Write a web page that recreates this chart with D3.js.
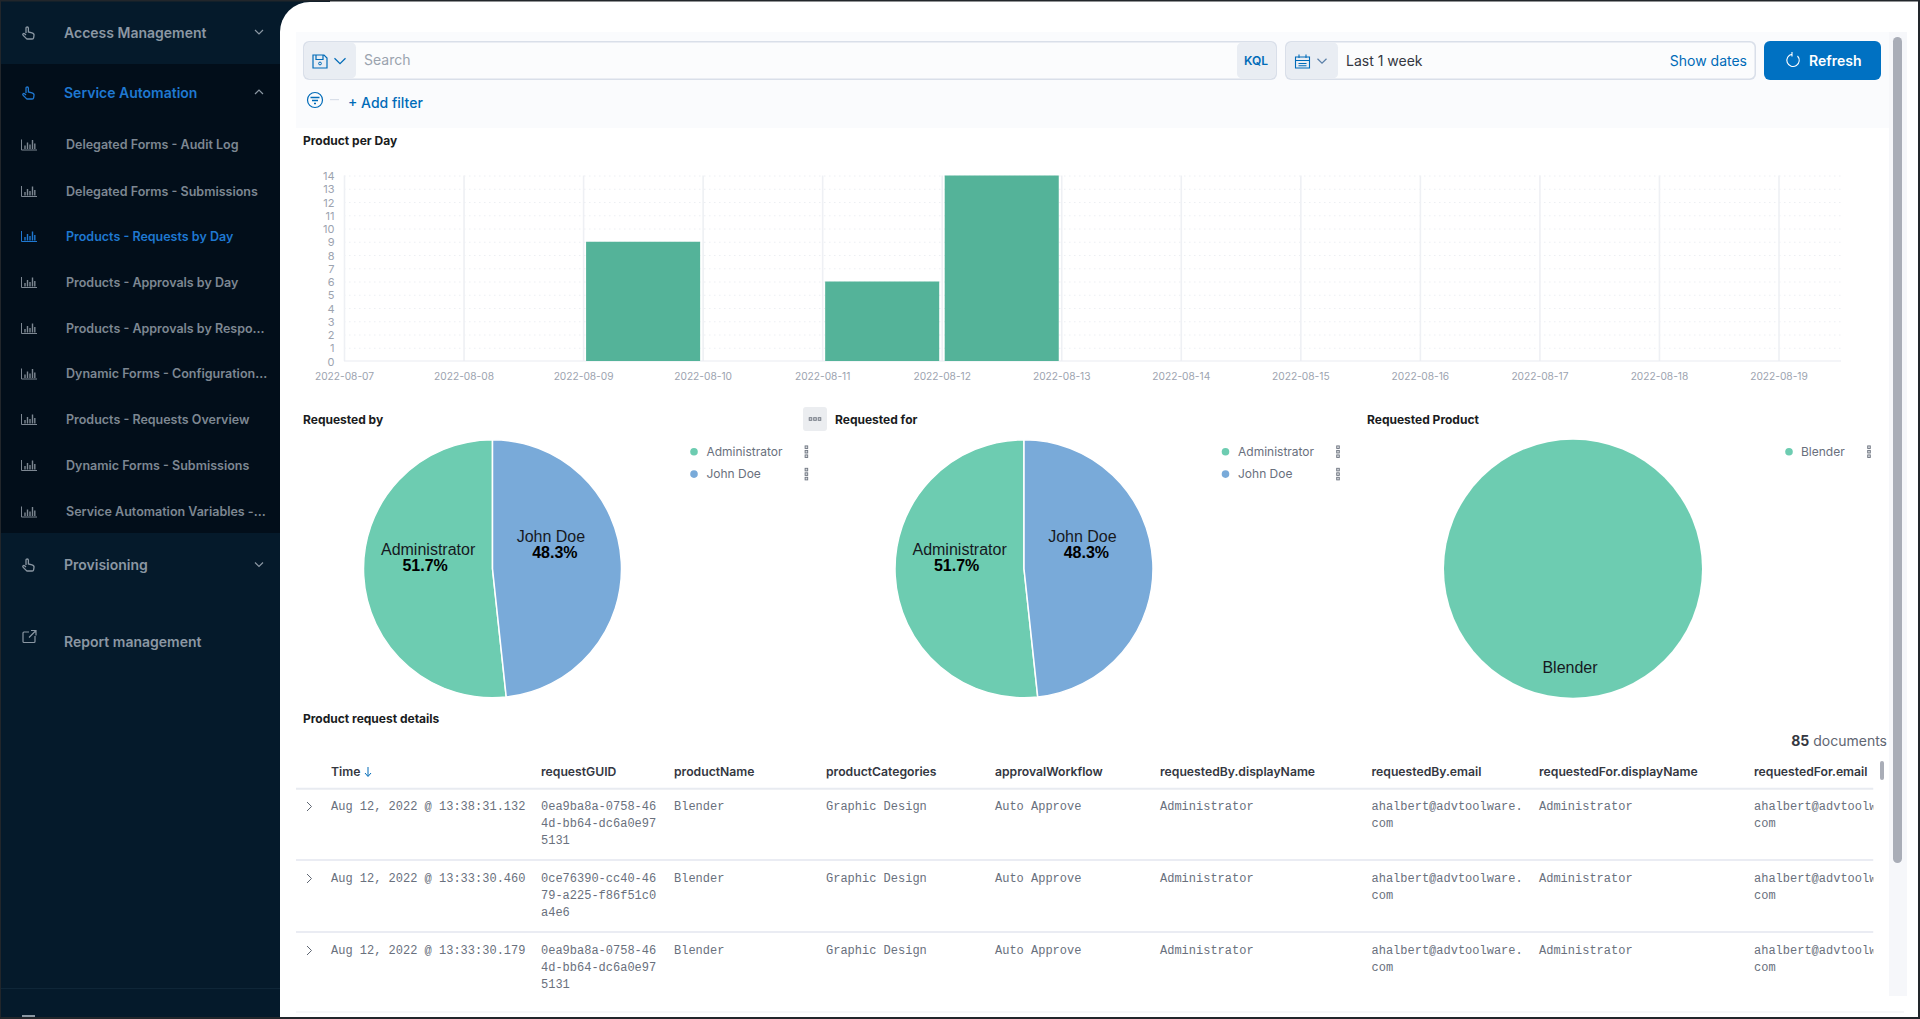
<!DOCTYPE html>
<html lang="en">
<head>
<meta charset="UTF-8">
<title>Products - Requests by Day</title>
<script src="https://d3js.org/d3.v7.min.js"></script>
<style>
  html, body { margin: 0; padding: 0; background: #fff; overflow: hidden; }
  svg { display: block; font-family: Inter, "Noto Sans", sans-serif; }
  text { dominant-baseline: central; }
  .axis text { fill: #9ca3af; font-family: Inter, sans-serif; }
  .axis .domain { display: none; }
  .mono { font-family: "Liberation Mono", monospace; font-size: 12px; fill: #69707d; }
</style>
</head>
<body>
<script>
// ---- data ----
var dayLabels = ["2022-08-07","2022-08-08","2022-08-09","2022-08-10","2022-08-11","2022-08-12","2022-08-13",
                 "2022-08-14","2022-08-15","2022-08-16","2022-08-17","2022-08-18","2022-08-19"];
var dayCounts = [0, 0, 9, 0, 6, 14, 0, 0, 0, 0, 0, 0, 0];
var yTicks = d3.range(0, 15);

var userNames = ["Administrator", "John Doe"];
var requestedByShare = [51.7, 48.3];
var requestedForShare = [51.7, 48.3];
var productNames = ["Blender"];
var productShare = [100];

var navTop1 = ["Access Management", "Service Automation"];
var navSub = ["Delegated Forms - Audit Log", "Delegated Forms - Submissions", "Products - Requests by Day",
              "Products - Approvals by Day", "Products - Approvals by Respo...", "Dynamic Forms - Configuration...",
              "Products - Requests Overview", "Dynamic Forms - Submissions", "Service Automation Variables -..."];
var navSubY = [144.5, 191, 236, 282, 328, 373.5, 419, 465, 511.5];

var tableHeaders = ["Time", "requestGUID", "productName", "productCategories", "approvalWorkflow",
                    "requestedBy.displayName", "requestedBy.email", "requestedFor.displayName", "requestedFor.email"];
var tableColX = [331, 541, 674, 826, 995, 1160, 1371.5, 1539, 1754];
var rowTimes = ["Aug 12, 2022 @ 13:38:31.132", "Aug 12, 2022 @ 13:33:30.460", "Aug 12, 2022 @ 13:33:30.179"];
var rowGuids = [["0ea9ba8a-0758-46", "4d-bb64-dc6a0e97", "5131"],
                ["0ce76390-cc40-46", "79-a225-f86f51c0", "a4e6"],
                ["0ea9ba8a-0758-46", "4d-bb64-dc6a0e97", "5131"]];
var rowY = [806.5, 878.5, 950.5];
var rowLines = [860, 932];

var w = 1920, h = 1019;
var green = "#6dccb1", blue = "#79aad9", link = "#006bb8";

var svg = d3.select("body").append("svg").attr("width", w).attr("height", h);

function txt(g, x, y, s, size, fill, weight, anchor) {
  return g.append("text").attr("x", x).attr("y", y).text(s)
    .attr("font-size", size).attr("fill", fill)
    .attr("font-weight", weight || 400).attr("text-anchor", anchor || "start");
}
function box(g, x, y, bw, bh, fill, r) {
  return g.append("rect").attr("x", x).attr("y", y).attr("width", bw).attr("height", bh)
    .attr("fill", fill).attr("rx", r || 0);
}
function line(g, x1, y1, x2, y2, col, sw) {
  return g.append("line").attr("x1", x1).attr("y1", y1).attr("x2", x2).attr("y2", y2)
    .attr("stroke", col).attr("stroke-width", sw || 1);
}
function chevron(g, cx, cy, up, col, s) {
  s = s || 4;
  var d = up ? -1 : 1;
  g.append("path").attr("d", "M" + (cx - s) + "," + (cy - d * s / 2) + "L" + cx + "," + (cy + d * s / 2) + "L" + (cx + s) + "," + (cy - d * s / 2))
    .attr("fill", "none").attr("stroke", col).attr("stroke-width", 1.2);
}
function handIcon(g, x, y, col) {
  g.append("path").attr("transform", "translate(" + x + "," + y + ")")
    .attr("d", "M4,7V2.2C4,0.6,6.4,0.6,6.4,2.2V6l3.6,0.8c1.4,0.3,2.2,1.2,2,2.6l-0.4,2.4c-0.1,0.8-0.7,1.2-1.4,1.2H5.4c-0.5,0-0.9-0.2-1.2-0.6L1,9.2C0.3,8.2,1.6,7,2.6,7.8L4,9")
    .attr("fill", "none").attr("stroke", col).attr("stroke-width", 1.3);
}
function barIcon(g, x, y, col) {
  var ic = g.append("g").attr("transform", "translate(" + x + "," + y + ")")
    .attr("stroke", col).attr("fill", "none");
  ic.append("path").attr("d", "M0.5,0V10.5H16").attr("stroke-width", 1);
  [[4, 6], [6.5, 3], [9, 5], [11.5, 0.5], [13.8, 4]].forEach(function (b) {
    ic.append("line").attr("x1", b[0]).attr("x2", b[0]).attr("y1", b[1]).attr("y2", 9.5).attr("stroke-width", 1.4);
  });
}
function kebab(g, cx, cy, horizontal) {
  [-4.5, 0, 4.5].forEach(function (d) {
    g.append("rect").attr("x", (horizontal ? cx + d : cx) - 1.3).attr("y", (horizontal ? cy : cy + d) - 1.3)
      .attr("width", 2.6).attr("height", 2.6).attr("fill", "#d5d8dc").attr("stroke", "#6f7680").attr("stroke-width", 0.9);
  });
}

// ---- sidebar ----
var nav = svg.append("g");
box(nav, 0, 0, 330, h, "#051a2b");
box(nav, 0, 64, 330, 469, "#020e1a");
line(nav, 0, 988.5, 280, 988.5, "#0f2638", 1);
var navMain = "#8b97a3", navActive = "#1f78d1", navSubCol = "#7d8792";
handIcon(nav, 22, 26, navMain);
txt(nav, 64, 32, navTop1[0], 14, navMain, 600);
chevron(nav, 259, 32, false, navMain);
handIcon(nav, 22, 86, navActive);
txt(nav, 64, 92, navTop1[1], 14, navActive, 600);
chevron(nav, 259, 92, true, navMain);
navSub.forEach(function (s, i) {
  var col = i === 2 ? navActive : navSubCol;
  barIcon(nav, 21, navSubY[i] - 5, col);
  txt(nav, 66, navSubY[i], s, 12.5, col, 600);
});
handIcon(nav, 22, 558, navMain);
txt(nav, 64, 564.5, "Provisioning", 14, navMain, 600);
chevron(nav, 259, 564.5, false, navMain);
nav.append("path").attr("d", "M35,636v5.5a1,1,0,0,1-1,1H24a1,1,0,0,1-1-1V633a1,1,0,0,1,1-1h5M31,630.5h5v5M36,630.5l-7,7")
  .attr("fill", "none").attr("stroke", navMain).attr("stroke-width", 1.2);
txt(nav, 64, 641, "Report management", 14, navMain, 600);
box(nav, 22, 1015, 13, 4, "#8b97a3");
// only the top of this label shows at the bottom edge of the reference
txt(nav, 64, 1023.5, "Help", 14, navMain, 600);

// ---- main panel ----
var main = svg.append("g");
main.append("path").attr("d", "M280," + h + "V32A30,30,0,0,1,310,2H" + w + "V" + h + "Z").attr("fill", "#fff");
box(main, 296, 32, 1595, 96, "#fafbfd");

// search bar
box(main, 303, 41, 974, 39, "#d9dfe9", 6);
box(main, 304.5, 42.5, 971, 36, "#fbfcfd", 5);
box(main, 304.5, 42.5, 51.5, 36, "#e9edf3", 5);
box(main, 1237, 42.5, 38.5, 36, "#e9edf3", 5);
main.append("path").attr("d", "M313,55H324L327,58V68H313ZM316,55V59.5H323V55").attr("fill", "none").attr("stroke", link).attr("stroke-width", 1.2);
main.append("circle").attr("cx", 320).attr("cy", 63.5).attr("r", 1.4).attr("fill", "none").attr("stroke", link);
chevron(main, 340, 61, false, link, 5.5);
txt(main, 364, 59.3, "Search", 14, "#9aa3ae");
txt(main, 1256, 60.5, "KQL", 12, link, 600, "middle");

// date picker
box(main, 1285, 41, 471, 39, "#d9dfe9", 6);
box(main, 1286.5, 42.5, 468, 36, "#fbfcfd", 5);
box(main, 1286.5, 42.5, 51.5, 36, "#e9edf3", 5);
main.append("path").attr("d", "M1295.5,57H1309.5V68H1295.5ZM1295.5,60.5H1309.5M1299,54.5V58M1306,54.5V58M1298.5,63.5H1306.5M1298.5,65.8H1306.5")
  .attr("fill", "none").attr("stroke", link).attr("stroke-width", 1.1);
chevron(main, 1322, 61, false, "#5a7fa8", 4.5);
txt(main, 1346, 60.5, "Last 1 week", 14, "#343741");
txt(main, 1747, 60.5, "Show dates", 14, link, 400, "end");

// refresh
box(main, 1764, 41, 117, 39, "#0071c2", 6);
main.append("path").attr("d", "M1797.5,56A6.2,6.2,0,1,1,1792,54.2M1792,52V56.5")
  .attr("fill", "none").attr("stroke", "#fff").attr("stroke-width", 1.1);
txt(main, 1809, 60.5, "Refresh", 14, "#fff", 600);

// filter row
main.append("circle").attr("cx", 315).attr("cy", 100).attr("r", 7.5).attr("fill", "none").attr("stroke", link).attr("stroke-width", 1.2);
main.append("path").attr("d", "M310.5,97.5H319.5M312,100.5H318M314,103.5H316").attr("stroke", link).attr("stroke-width", 1.3);
line(main, 330, 99.6, 339, 99.6, "#d9dfe9", 1.2);
txt(main, 348, 102.7, "+ Add filter", 14, link, 500);

// ---- bar chart ----
var titleCol = "#1a1c21";
txt(main, 303, 140, "Product per Day", 12, titleCol, 700);

var parseDay = d3.utcParse("%Y-%m-%d");
var days = dayLabels.map(parseDay);
var plotLeft = 344, plotRight = 1841, plotTop = 175.5, plotBottom = 361;
var x = d3.scaleUtc().domain([days[0], days[12]]).range([plotLeft, 1778.5]);
var y = d3.scaleLinear().domain([0, 14]).range([plotBottom, plotTop]);

var yGrid = main.append("g").attr("transform", "translate(" + plotLeft + ",0)")
  .call(d3.axisLeft(y).tickValues(yTicks.slice(1)).tickSize(-(plotRight - plotLeft)).tickFormat(""));
yGrid.select(".domain").remove();
yGrid.selectAll("line").attr("stroke", "#eceff3").attr("stroke-dasharray", "1.5,3.5");

var xAxis = main.append("g").attr("class", "axis").attr("transform", "translate(0," + plotBottom + ")")
  .call(d3.axisBottom(x).tickValues(days).tickSize(-(plotBottom - plotTop)).tickPadding(15).tickFormat(d3.utcFormat("%Y-%m-%d")));
xAxis.selectAll("line").attr("stroke", "#eef0f4").attr("stroke-width", 1.6);
xAxis.selectAll("text").attr("dy", 0).attr("font-size", 10.2);

var yAxis = main.append("g").attr("class", "axis").attr("transform", "translate(" + plotLeft + ",0)")
  .call(d3.axisLeft(y).tickValues(yTicks).tickSize(0).tickPadding(9.5).tickFormat(d3.format("d")));
yAxis.selectAll("text").attr("dy", 0).attr("font-size", 11);
line(main, plotLeft, plotBottom, plotRight, plotBottom, "#e9ecf1", 1.2);

main.append("g").selectAll("rect").data(dayCounts.map(function (v, i) { return { day: days[i], value: v }; }).filter(function (d) { return d.value > 0; }))
  .enter().append("rect")
  .attr("x", function (d) { return x(d.day) + 3; })
  .attr("y", function (d) { return y(d.value); })
  .attr("width", function (d) { return x(d3.utcDay.offset(d.day, 1)) - x(d.day) - 5.5; })
  .attr("height", function (d) { return plotBottom - y(d.value); })
  .attr("fill", "#54b399");

// ---- pies ----
var arc = d3.arc().innerRadius(0).outerRadius(129);
function drawPie(cx, names, values, colors) {
  var g = main.append("g").attr("transform", "translate(" + cx + ",568.8)");
  var pie = d3.pie().sort(function (a, b) { return a.v - b.v; }).value(function (d) { return d.v; });
  var slices = pie(names.map(function (n, i) { return { n: n, v: values[i], c: colors[i] }; }));
  g.selectAll("path").data(slices).enter().append("path")
    .attr("d", arc).attr("fill", function (d) { return d.data.c; })
    .attr("stroke", "#fff").attr("stroke-width", names.length > 1 ? 1.5 : 0);
  return { g: g, slices: slices };
}
function labelSlice(p, i, dxName, dyName, dxVal, dyVal, showPct) {
  var c = arc.centroid(p.slices[i]);
  p.g.append("text").attr("x", c[0] + dxName).attr("y", c[1] + dyName).attr("text-anchor", "middle")
    .attr("font-family", "'Liberation Sans', Arial, sans-serif").attr("font-size", 16).attr("fill", "#16191f").text(p.slices[i].data.n);
  if (showPct) {
    p.g.append("text").attr("x", c[0] + dxVal).attr("y", c[1] + dyVal).attr("text-anchor", "middle")
      .attr("font-family", "'Liberation Sans', Arial, sans-serif").attr("font-size", 16).attr("font-weight", 700).attr("fill", "#000")
      .text(p.slices[i].data.v.toFixed(1) + "%");
  }
}
function twoSlicePie(cx, values) {
  var p = drawPie(cx, userNames, values, [green, blue]);
  // slices keep input order: 0 = Administrator, 1 = John Doe (smaller, drawn first from 12 o'clock)
  labelSlice(p, 0, 0, -22.4, -3, -6.4, true);
  labelSlice(p, 1, -6, -28.6, -2, -12.6, true);
}
function legend(dotX, textX, kebabX, names, colors) {
  names.forEach(function (n, i) {
    var ly = 451.7 + i * 22.4;
    main.append("circle").attr("cx", dotX).attr("cy", ly).attr("r", 3.8).attr("fill", colors[i]);
    txt(main, textX, ly - 0.7, n, 12, "#69707d");
    kebab(main, kebabX, ly, false);
  });
}
txt(main, 303, 419, "Requested by", 12, titleCol, 700);
twoSlicePie(492.5, requestedByShare);
legend(694, 706.4, 806.4, userNames, [green, blue]);

box(main, 803, 407, 24, 24, "#ebedf0", 3);
kebab(main, 815, 419, true);
txt(main, 835, 419, "Requested for", 12, titleCol, 700);
twoSlicePie(1024, requestedForShare);
legend(1225.5, 1238, 1338, userNames, [green, blue]);

txt(main, 1367, 419, "Requested Product", 12, titleCol, 700);
var productPie = drawPie(1573, productNames, productShare, [green]);
labelSlice(productPie, 0, -3, 34, 0, 0, false);
legend(1789, 1801, 1869, productNames, [green]);

// ---- table ----
txt(main, 303, 718, "Product request details", 12, titleCol, 700);
var docs = main.append("text").attr("x", 1887).attr("y", 740).attr("text-anchor", "end").attr("font-size", 14).attr("fill", "#5f6672");
docs.append("tspan").attr("font-weight", 700).attr("fill", "#343741").text("85");
docs.append("tspan").text(" documents");

svg.append("defs").append("clipPath").attr("id", "tableClip").append("rect")
  .attr("x", 296).attr("y", 750).attr("width", 1577.5).attr("height", 262);
var table = main.append("g").attr("clip-path", "url(#tableClip)");

tableHeaders.forEach(function (t, i) {
  txt(table, tableColX[i], 771.7, t, 12.2, "#343741", 600);
});
table.append("path").attr("d", "M368,767V776M365,773L368,776.5L371,773").attr("fill", "none").attr("stroke", link).attr("stroke-width", 1);
line(table, 296, 788.7, 1873.5, 788.7, "#e8ebf1", 2);
rowLines.forEach(function (ly) { line(table, 296, ly, 1873.5, ly, "#e3e6ef", 1.5); });
line(main, 296, 1012, 1904, 1012, "#eef0f3", 1.2);

rowTimes.forEach(function (t, r) {
  var ry = rowY[r];
  table.append("path").attr("d", "M307," + (ry - 4.5) + "L311.5," + ry + "L307," + (ry + 4.5)).attr("fill", "none").attr("stroke", "#5f6672").attr("stroke-width", 1);
  function cell(col, lines) {
    lines.forEach(function (s, k) {
      table.append("text").attr("class", "mono").attr("x", tableColX[col]).attr("y", ry + k * 17).text(s);
    });
  }
  cell(0, [t]);
  cell(1, rowGuids[r]);
  cell(2, ["Blender"]);
  cell(3, ["Graphic Design"]);
  cell(4, ["Auto Approve"]);
  cell(5, ["Administrator"]);
  cell(6, ["ahalbert@advtoolware.", "com"]);
  cell(7, ["Administrator"]);
  cell(8, ["ahalbert@advtoolware.", "com"]);
});

// scrollbars
box(main, 1889, 32, 18, 964, "#f6f7fa");
box(main, 1893, 37, 9, 826, "#a9adb7", 4.5);
box(main, 1880, 761, 4, 19, "#a9adb7", 2);

// screenshot frame
line(svg, 0, 0.75, w, 0.75, "#22262b", 1.5);
line(svg, 0.5, 0, 0.5, h, "#22262b", 1);
line(svg, w - 1, 0, w - 1, h, "#22262b", 2);
line(svg, 0, h - 1, w, h - 1, "#22262b", 2);
</script>
</body>
</html>
